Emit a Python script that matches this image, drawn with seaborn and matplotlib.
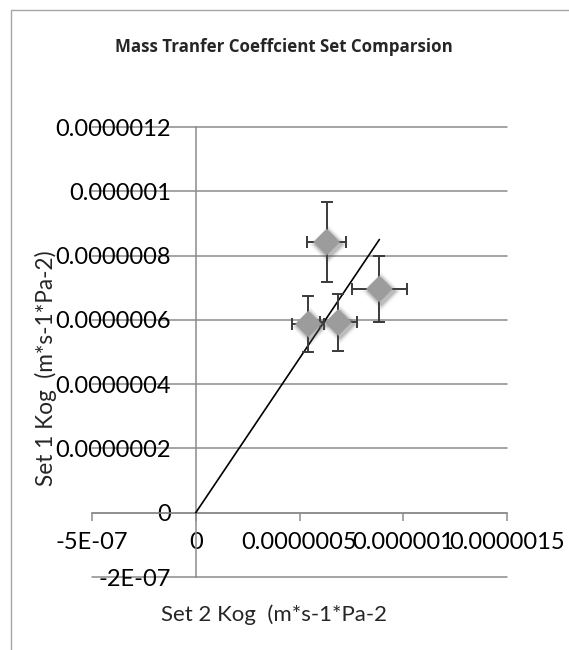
import matplotlib
matplotlib.use("Agg")
import matplotlib.pyplot as plt
import matplotlib.transforms as mtransforms
from matplotlib.lines import Line2D
from matplotlib.ticker import FixedLocator, FixedFormatter
import seaborn as sns
import pandas as pd

# Measured mass transfer coefficients (m*s-1*Pa-2)
set2_kog = [0.631e-6, 0.885e-6, 0.543e-6, 0.687e-6]
set1_kog = [0.842e-6, 0.696e-6, 0.587e-6, 0.592e-6]
set2_err = [0.095e-6, 0.133e-6, 0.077e-6, 0.088e-6]
set1_err = [0.125e-6, 0.103e-6, 0.087e-6, 0.088e-6]

# Reference line through the origin
line_x = [0.0, 0.885e-6]
line_y = [0.0, 0.850e-6]

x_ticks = [-5e-7, 0.0, 5e-7, 1e-6, 1.5e-6]
x_tick_labels = ["-5E-07", "0", "0.0000005", "0.000001", "0.0000015"]
y_ticks = [-2e-7, 0.0, 2e-7, 4e-7, 6e-7, 8e-7, 1e-6, 1.2e-6]
y_tick_labels = ["-2E-07", "0", "0.0000002", "0.0000004", "0.0000006",
                 "0.0000008", "0.000001", "0.0000012"]

sns.set_theme(style="white")
plt.rcParams["font.family"] = ["Lato", "DejaVu Sans"]

df = pd.DataFrame({"set2": set2_kog, "set1": set1_kog})

fig = plt.figure(figsize=(5.69, 6.5), dpi=100)
ax = fig.add_axes([92 / 569, 1 - 577 / 650, 415 / 569, 450 / 650])
ax.set_xlim(x_ticks[0], x_ticks[-1])
ax.set_ylim(y_ticks[0], y_ticks[-1])

grid_c = "#8c8c8c"

# axes crossing at the origin
for side in ("top", "right"):
    ax.spines[side].set_visible(False)
ax.spines["left"].set_position(("data", 0))
ax.spines["bottom"].set_position(("data", 0))
for side in ("left", "bottom"):
    ax.spines[side].set_color(grid_c)
    ax.spines[side].set_linewidth(1.1)

ax.xaxis.set_major_locator(FixedLocator(x_ticks))
ax.xaxis.set_major_formatter(FixedFormatter(x_tick_labels))
ax.yaxis.set_major_locator(FixedLocator(y_ticks))
ax.yaxis.set_major_formatter(FixedFormatter(y_tick_labels))
ax.tick_params(axis="x", direction="out", length=5.8, width=1.1, color=grid_c,
               pad=8, labelsize=17, labelcolor="black", bottom=True)
ax.tick_params(axis="y", length=0, pad=18, labelsize=17, labelcolor="black", left=True)

ax.grid(axis="y", color=grid_c, linewidth=1.1)
ax.grid(axis="x", visible=False)
for gl in ax.get_ygridlines():
    gl.set_clip_on(False)

# reference line
sns.lineplot(x=line_x, y=line_y, ax=ax, color="black", linewidth=1.2,
             zorder=3, legend=False)

# error bars
ax.errorbar(set2_kog, set1_kog, xerr=set2_err, yerr=set1_err, fmt="none",
            ecolor="#3a3a3a", elinewidth=1.4, capsize=4, capthick=1.4, zorder=4)

# soft shadow beneath the diamonds
ms = 13.6
shadow = mtransforms.offset_copy(ax.transData, fig=fig, x=1.5, y=-2.0, units="dots")
for scale, alpha in [(1.45, 0.06), (1.32, 0.09), (1.2, 0.13), (1.1, 0.18)]:
    ax.scatter(set2_kog, set1_kog, s=(ms * scale) ** 2, marker="D",
               color="#555555", alpha=alpha, linewidths=0, transform=shadow,
               zorder=5)

sns.scatterplot(data=df, x="set2", y="set1", ax=ax, marker="D", s=ms ** 2,
                color="#9c9c9c", edgecolor="none", linewidth=0, zorder=6,
                legend=False)

ax.set_xlabel("Set 2 Kog  (m*s-1*Pa-2", fontsize=16)
ax.set_ylabel("Set 1 Kog  (m*s-1*Pa-2)", fontsize=16.3)
ax.xaxis.set_label_coords((274 - 92) / 415, (577 - 615) / 450)
ax.xaxis.label.set_va("center")
ax.yaxis.set_label_coords((46 - 92) / 415, (577 - 368) / 450)
ax.yaxis.label.set_va("center")

fig.text(284 / 569, 1 - 47 / 650, "Mass Tranfer Coeffcient Set Comparsion",
         ha="center", va="center", fontsize=12.2, fontweight="bold",
         family=["Open Sans", "DejaVu Sans"])

# chart frame
border_c = "#a6a6a6"
fig.add_artist(Line2D([11 / 569, 11 / 569], [0, 1 - 10 / 650],
                      transform=fig.transFigure, color=border_c, lw=1))
fig.add_artist(Line2D([11 / 569, 1], [1 - 10 / 650, 1 - 10 / 650],
                      transform=fig.transFigure, color=border_c, lw=1))

fig.savefig("out.png", dpi=100, facecolor="white")
